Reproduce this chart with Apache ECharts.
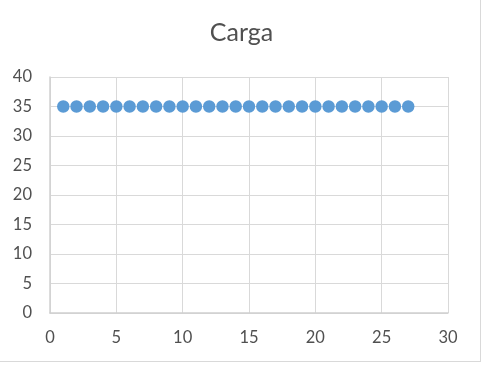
<!DOCTYPE html>
<html>
<head>
<meta charset="utf-8">
<script src="https://cdn.jsdelivr.net/npm/echarts@6/dist/echarts.min.js"></script>
<style>
html,body{margin:0;padding:0;background:#fff;}
#wrap{position:absolute;left:0;top:0;width:480px;height:361px;border-right:1px solid #d9d9d9;border-bottom:1px solid #d9d9d9;}
#c{position:absolute;left:0;top:0;width:483px;height:365px;}
</style>
</head>
<body>
<div id="wrap"></div>
<div id="c"></div>
<script>
var xValues = [1,2,3,4,5,6,7,8,9,10,11,12,13,14,15,16,17,18,19,20,21,22,23,24,25,26,27];
var yValues = [35,35,35,35,35,35,35,35,35,35,35,35,35,35,35,35,35,35,35,35,35,35,35,35,35,35,35];
var titleText = 'Carga';

var chart = echarts.init(document.getElementById('c'), null, {renderer:'canvas'});
var font = 'Lato, "Open Sans", sans-serif';
chart.setOption({
  animation:false,
  title:{text:titleText,left:'center',top:15,textStyle:{fontFamily:font,fontSize:25,fontWeight:'normal',color:'#505050'}},
  grid:{left:50,right:35,top:77,bottom:52},
  xAxis:{type:'value',min:0,max:30,interval:5,
    axisLine:{show:true,lineStyle:{color:'#d0d0d0',width:1.5}},
    axisTick:{show:false},
    axisLabel:{margin:16,fontFamily:font,fontSize:16.5,color:'#505050'},
    splitLine:{show:true,lineStyle:{color:'#d9d9d9',width:1}}},
  yAxis:{type:'value',min:0,max:40,interval:5,
    axisLine:{show:true,lineStyle:{color:'#d0d0d0',width:1.5}},
    axisTick:{show:false},
    axisLabel:{margin:18,fontFamily:font,fontSize:16.5,color:'#505050'},
    splitLine:{show:true,lineStyle:{color:'#d9d9d9',width:1}}},
  series:[{type:'scatter',data:xValues.map(function(x,i){return [x,yValues[i]];}),
    symbolSize:12.5,itemStyle:{color:'#5b9bd5',opacity:1}}]
});
</script>
</body>
</html>
